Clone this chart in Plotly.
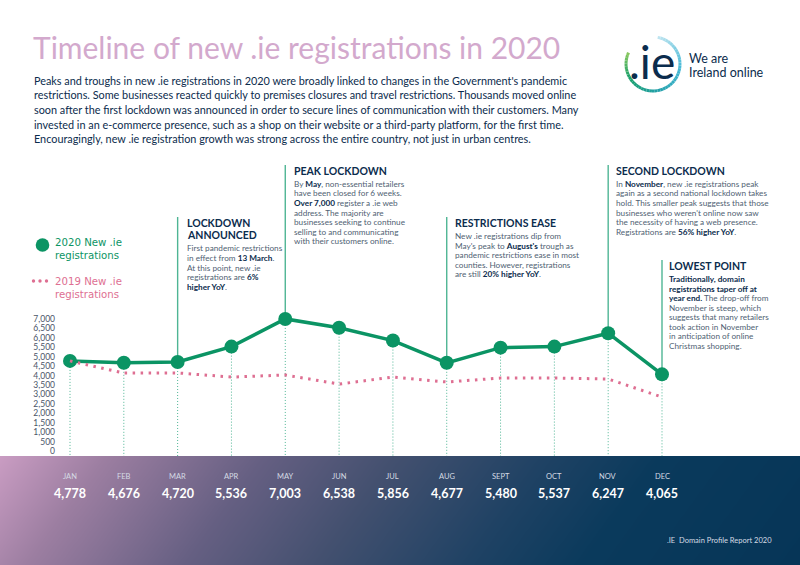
import numpy as np
import plotly.graph_objects as go

W, H = 800, 565
FONT = "Lato"
NAVY = "#0b2c4d"
GREY = "#4f5f73"
GREEN = "#0b9464"
STEM = "#4fb594"
PINK = "#de6f92"

months = ["JAN", "FEB", "MAR", "APR", "MAY", "JUN", "JUL", "AUG", "SEPT", "OCT", "NOV", "DEC"]
values_2020 = [4778, 4676, 4720, 5536, 7003, 6538, 5856, 4677, 5480, 5537, 6247, 4065]
values_2019 = [4778, 4130, 4140, 3920, 4030, 3550, 3920, 3660, 3870, 3870, 3820, 2860]
y_ticks = list(range(0, 7001, 500))

title = "Timeline of new .ie registrations in 2020"
intro = [
    "Peaks and troughs in new .ie registrations in 2020 were broadly linked to changes in the Government's pandemic",
    "restrictions. Some businesses reacted quickly to premises closures and travel restrictions. Thousands moved online",
    "soon after the first lockdown was announced in order to secure lines of communication with their customers. Many",
    "invested in an e-commerce presence, such as a shop on their website or a third-party platform, for the first time.",
    "Encouragingly, new .ie registration growth was strong across the entire country, not just in urban centres.",
]

# month index, stem top (px), text offset from stem (px), heading lines, body lines
callouts = [
    (2, 217, 8, ["LOCKDOWN", "ANNOUNCED"],
     ["First pandemic restrictions", "in effect from <b>13 March</b>.", "At this point, new .ie",
      "registrations are <b>6%</b>", "<b>higher YoY</b>."]),
    (4, 165, 8, ["PEAK LOCKDOWN"],
     ["By <b>May</b>, non-essential retailers", "have been closed for 6 weeks.",
      "<b>Over 7,000</b> register a .ie web", "address. The majority are",
      "businesses seeking to continue", "selling to and communicating", "with their customers online."]),
    (7, 217, 7, ["RESTRICTIONS EASE"],
     ["New .ie registrations dip from", "May's peak to <b>August's</b> trough as",
      "pandemic restrictions ease in most", "counties. However, registrations",
      "are still <b>20% higher YoY</b>."]),
    (10, 165, 7, ["SECOND LOCKDOWN"],
     ["In <b>November</b>, new .ie registrations peak", "again as a second national lockdown takes",
      "hold. This smaller peak suggests that those", "businesses who weren't online now saw",
      "the necessity of having a web presence.", "Registrations are <b>56% higher YoY</b>."]),
    (11, 260, 6, ["LOWEST POINT"],
     ["<b>Traditionally, domain</b>", "<b>registrations taper off at</b>", "<b>year end.</b> The drop-off from",
      "November is steep, which", "suggests that many retailers", "took action in November",
      "in anticipation of online", "Christmas shopping."]),
]


def px(x, y):
    return x / W, 1 - y / H


def label(x, y, s, size, color, anchor="left", family=FONT):
    fx, fy = px(x, y)
    return dict(x=fx, y=fy, xref="paper", yref="paper", text=s, showarrow=False, xanchor=anchor,
                yanchor="middle", borderpad=0, font=dict(family=family, size=size, color=color))


def dot(cx, cy, r, color):
    x0, y0 = px(cx - r, cy - r)
    x1, y1 = px(cx + r, cy + r)
    return dict(type="circle", xref="paper", yref="paper", x0=x0, y0=y0, x1=x1, y1=y1,
                fillcolor=color, line=dict(width=0))


# chart frame in pixels, the axes ranges follow from Jan/Dec centres and the 0/7000 tick rows
LEFT, RIGHT, TOP, BOTTOM = 56, 720, 150, 456
x_step = (662 - 70) / 11
y_unit = (451 - 319) / 7000
x_range = [(LEFT - 70) / x_step, (RIGHT - 70) / x_step]
y_range = [(451 - BOTTOM) / y_unit, (451 - TOP) / y_unit]


def px_to_value(y):
    return (451 - y) / y_unit


fig = go.Figure()

# gradient band at the bottom
gx = np.linspace(0, 1, 160)
gy = np.linspace(0, 1, 40)
gz = np.array([[gxi + 0.1 * gyi for gxi in gx] for gyi in gy])
fig.add_trace(go.Heatmap(
    x=gx, y=gy, z=gz, xaxis="x2", yaxis="y2", zsmooth="best", showscale=False, hoverinfo="skip",
    zmin=0, zmax=1.1,
    colorscale=[[0, "#c99cc2"], [0.12, "#9c7ea1"], [0.3, "#655f82"], [0.45, "#43506f"],
                [0.62, "#1f4264"], [0.75, "#0a3a5c"], [1, "#063557"]],
))

# thin dotted drop lines
drop_x, drop_y = [], []
for i, v in enumerate(values_2020):
    drop_x += [i, i, None]
    drop_y += [v, px_to_value(BOTTOM), None]
fig.add_trace(go.Scatter(x=drop_x, y=drop_y, mode="lines", showlegend=False, hoverinfo="skip",
                         line=dict(color=STEM, width=1, dash="1px,2px")))

# solid stems up to the callouts
stem_x, stem_y = [], []
for m, top, _, _, _ in callouts:
    stem_x += [m, m, None]
    stem_y += [values_2020[m], px_to_value(top), None]
fig.add_trace(go.Scatter(x=stem_x, y=stem_y, mode="lines", showlegend=False, hoverinfo="skip",
                         line=dict(color=STEM, width=1.4)))

fig.add_trace(go.Scatter(
    x=list(range(12)), y=values_2020, mode="lines+markers", name="2020 New .ie registrations",
    line=dict(color=GREEN, width=3.5), marker=dict(color=GREEN, size=14),
))
fig.add_trace(go.Scatter(
    x=list(range(12)), y=values_2019, mode="lines", name="2019 New .ie registrations",
    line=dict(color=PINK, width=3, dash="2.5px,5.5px"),
))

annotations = [label(33, 80 + 14.7 * i, line, 10.85, NAVY) for i, line in enumerate(intro)]

for m, top, off, heading, body in callouts:
    tx = 70 + m * x_step + off
    y = top + 6
    for h in heading:
        annotations.append(label(tx, y, "<b>%s</b>" % h, 10.5, NAVY))
        y += 12.5
    y += 0.5
    for line in body:
        annotations.append(label(tx, y, line.replace("<b>", '<b style="color:%s">' % NAVY), 8.2, GREY))
        y += 9.5

# legend drawn by hand, the built-in one cannot tighten its two-line labels
LEGEND_FONT = "DejaVu Sans"
annotations.append(label(54, 242, "2020 New .ie", 10.2, GREEN, family=LEGEND_FONT))
annotations.append(label(54, 255, "registrations", 10.2, GREEN, family=LEGEND_FONT))
annotations.append(label(54, 281, "2019 New .ie", 10.2, PINK, family=LEGEND_FONT))
annotations.append(label(54, 294, "registrations", 10.2, PINK, family=LEGEND_FONT))

# month names and values in the band
fy_month = px(0, 476)[1]
fy_value = px(0, 493)[1]
for i, (m, v) in enumerate(zip(months, values_2020)):
    annotations.append(dict(x=i, y=fy_month, xref="x", yref="paper", text=m, showarrow=False,
                            yanchor="middle", font=dict(family=FONT, size=7.5, color="#d5dbe4")))
    annotations.append(dict(x=i, y=fy_value, xref="x", yref="paper", text="<b>%s</b>" % format(v, ","),
                            showarrow=False, yanchor="middle", font=dict(family=FONT, size=12.5, color="white")))
annotations.append(label(773, 540, ".IE  Domain Profile Report 2020", 7.5, "#d5dbe4", "right"))

# logo
annotations.append(label(652, 62, ".ie", 46, NAVY, "center"))
annotations.append(label(688, 58, "We are", 12.5, NAVY))
annotations.append(label(688, 72, "Ireland online", 12.5, NAVY))

shapes = [dot(42.5, 245, 6.8, GREEN), dot(33.5, 281, 1.7, PINK), dot(40, 281, 1.7, PINK), dot(46.5, 281, 1.7, PINK)]
ring_stops = [(0.0, (190, 228, 240)), (0.3, (70, 185, 215)), (0.55, (35, 160, 170)),
              (0.8, (25, 160, 105)), (1.0, (150, 205, 95))]
n_seg = 48
for k in range(n_seg):
    t0, t1 = k / n_seg, (k + 1) / n_seg
    a0, a1 = np.radians(-80 + t0 * 285), np.radians(-80 + t1 * 285)
    x0, y0 = px(653 + 27 * np.cos(a0), 64 + 27 * np.sin(a0))
    x1, y1 = px(653 + 27 * np.cos(a1), 64 + 27 * np.sin(a1))
    rgb = [int(np.interp(t0, [s[0] for s in ring_stops], [s[1][c] for s in ring_stops])) for c in range(3)]
    shapes.append(dict(type="line", xref="paper", yref="paper", x0=x0, y0=y0, x1=x1, y1=y1,
                       line=dict(color="rgb(%d,%d,%d)" % tuple(rgb), width=3)))

fig.update_layout(
    width=W, height=H, margin=dict(l=0, r=0, t=0, b=0), showlegend=False,
    paper_bgcolor="white", plot_bgcolor="rgba(0,0,0,0)", hovermode=False,
    title=dict(text=title, x=33 / W, y=1 - 48 / H, xanchor="left", yanchor="middle", xref="paper", yref="paper",
               font=dict(family=FONT, size=30, color="#d3a9cd")),
    xaxis=dict(domain=[LEFT / W, RIGHT / W], range=x_range, visible=False),
    yaxis=dict(domain=[1 - BOTTOM / H, 1 - TOP / H], range=y_range, tickvals=y_ticks, tickformat=",",
               showgrid=False, zeroline=False, showline=False, ticks="",
               tickfont=dict(family=FONT, size=8.5, color="#4a5568")),
    xaxis2=dict(domain=[0, 1], range=[0, 1], visible=False, anchor="y2"),
    yaxis2=dict(domain=[0, 1 - BOTTOM / H], range=[1, 0], visible=False, anchor="x2"),
    annotations=annotations, shapes=shapes,
)

# page default margin would push the figure 8px in
fig.write_html("out.html", config={"displayModeBar": False},
               post_script="document.body.style.margin='0';document.documentElement.style.overflow='hidden';")
